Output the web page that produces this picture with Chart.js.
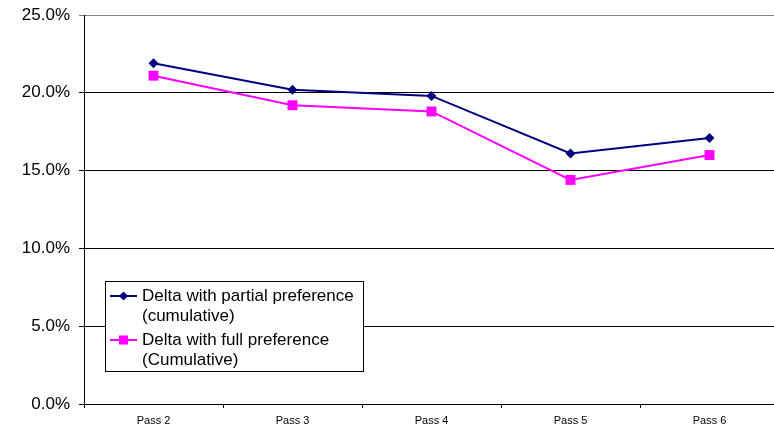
<!DOCTYPE html>
<html>
<head>
<meta charset="utf-8">
<script src="https://cdn.jsdelivr.net/npm/chart.js@4.4.1/dist/chart.umd.min.js"></script>
<style>
html,body{margin:0;padding:0;background:#fff;overflow:hidden;width:774px;height:428px;}
#wrap{position:absolute;left:0;top:0;width:780px;height:428px;}
</style>
</head>
<body>
<div id="wrap"><canvas id="c" width="780" height="428" style="width:780px;height:428px"></canvas></div>
<script>
const categories = ['Pass 2', 'Pass 3', 'Pass 4', 'Pass 5', 'Pass 6'];
const partialValues = [21.9, 20.2, 19.8, 16.1, 17.1];
const fullValues = [21.1, 19.2, 18.8, 14.4, 16.0];
const seriesNames = [['Delta with partial preference', '(cumulative)'], ['Delta with full preference', '(Cumulative)']];
const yTicks = { min: 0, max: 25, step: 5 };

const FONT = '"Liberation Sans", Arial, sans-serif';

const legendPlugin = {
  id: 'boxLegend',
  afterDraw(chart) {
    const ctx = chart.ctx;
    const x = 105.5, y = 281.5, w = 258, h = 90;
    ctx.save();
    ctx.fillStyle = '#fff';
    ctx.fillRect(x, y, w, h);
    ctx.strokeStyle = '#000';
    ctx.lineWidth = 1;
    ctx.strokeRect(x, y, w, h);
    const ds = chart.data.datasets;
    const rowY = [296, 340];
    ds.forEach((d, i) => {
      const cy = rowY[i];
      ctx.strokeStyle = d.borderColor;
      ctx.lineWidth = 2;
      ctx.beginPath();
      ctx.moveTo(110, cy);
      ctx.lineTo(137, cy);
      ctx.stroke();
      ctx.fillStyle = d.backgroundColor;
      ctx.beginPath();
      if (d.pointStyle === 'rectRot') {
        const r = 4.5;
        ctx.moveTo(123.5, cy - r); ctx.lineTo(123.5 + r, cy); ctx.lineTo(123.5, cy + r); ctx.lineTo(123.5 - r, cy); ctx.closePath();
      } else {
        ctx.rect(119, cy - 4.5, 9, 9);
      }
      ctx.fill();
      ctx.fillStyle = '#000';
      ctx.font = '17px ' + FONT;
      ctx.textBaseline = 'middle';
      ctx.textAlign = 'left';
      seriesNames[i].forEach((t, j) => ctx.fillText(t, 142, cy + j * 20));
    });
    ctx.restore();
  }
};

new Chart(document.getElementById('c'), {
  type: 'line',
  data: {
    labels: categories,
    datasets: [
      {
        label: seriesNames[0].join(' '),
        data: partialValues,
        borderColor: '#000080',
        backgroundColor: '#000080',
        borderWidth: 2,
        pointStyle: 'rectRot',
        pointRadius: 5,
        pointBorderWidth: 0,
        tension: 0
      },
      {
        label: seriesNames[1].join(' '),
        data: fullValues,
        borderColor: '#FF00FF',
        backgroundColor: '#FF00FF',
        borderWidth: 2,
        pointStyle: 'rect',
        pointRadius: 7,
        pointBorderWidth: 0,
        tension: 0
      }
    ]
  },
  options: {
    responsive: false,
    animation: false,
    devicePixelRatio: 1,
    layout: { autoPadding: false, padding: { top: 15, right: 1, bottom: 0, left: 0 } },
    plugins: { legend: { display: false }, tooltip: { enabled: false } },
    scales: {
      x: {
        offset: true,
        grid: { offset: true, drawOnChartArea: false, color: '#000', tickLength: 4 },
        border: { color: '#000', width: 1 },
        ticks: { color: '#000', font: { family: FONT, size: 11 }, padding: 6, maxRotation: 0 },
        afterFit(s) { s.height = 24; s.paddingLeft = 0; s.paddingRight = 0; }
      },
      y: {
        min: yTicks.min,
        max: yTicks.max,
        grid: {
          color: (c) => (c.tick && c.tick.value === yTicks.max ? '#808080' : '#000'),
          tickLength: 5,
          lineWidth: 1
        },
        border: { color: '#000', width: 1 },
        ticks: {
          stepSize: yTicks.step,
          color: '#000',
          font: { family: FONT, size: 17 },
          padding: 9,
          callback: (v) => v.toFixed(1) + '%'
        },
        afterFit(s) { s.width = 84; s.paddingTop = 0; s.paddingBottom = 0; }
      }
    }
  },
  plugins: [legendPlugin]
});
</script>
</body>
</html>
